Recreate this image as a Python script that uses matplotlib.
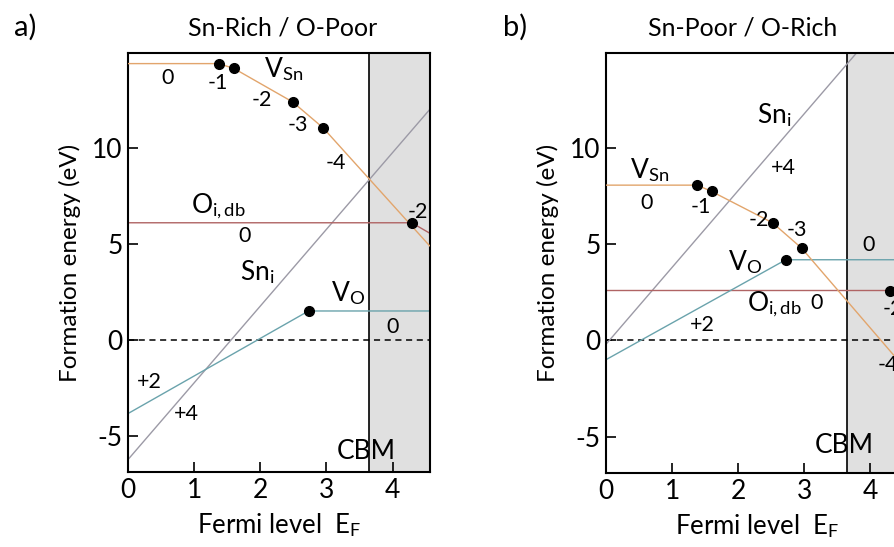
import matplotlib
matplotlib.use("Agg")
import matplotlib.pyplot as plt

plt.rcParams['font.family'] = ['Lato', 'DejaVu Sans']
plt.rcParams['mathtext.fontset'] = 'custom'
plt.rcParams['mathtext.rm'] = 'Lato'
plt.rcParams['mathtext.it'] = 'Lato:italic'
plt.rcParams['axes.unicode_minus'] = False

# ---------------- data ----------------
XMAX = 4.56
CBM = 3.64
YLIM = (-6.9, 14.95)
xticks = [0, 1, 2, 3, 4]
yticks = [-5, 0, 5, 10]

# Panel a: Sn-Rich / O-Poor
a_vsn_x = [0, 1.37, 1.60, 2.49, 2.95, 4.56]
a_vsn_y = [14.4, 14.4, 14.15, 12.4, 11.05, 4.9]
a_vsn_dots_x = [1.37, 1.60, 2.49, 2.95]
a_vsn_dots_y = [14.4, 14.15, 12.4, 11.05]
a_oi_x = [0, 4.29, 4.56]
a_oi_y = [6.1, 6.1, 5.56]
a_oi_dot = (4.29, 6.1)
a_sni_x = [0, 4.56]
a_sni_y = [-6.25, 12.0]
a_vo_x = [0, 2.73, 4.56]
a_vo_y = [-3.85, 1.5, 1.5]
a_vo_dot = (2.73, 1.5)

# Panel b: Sn-Poor / O-Rich
b_vsn_x = [0, 1.38, 1.60, 2.52, 2.96, 4.56]
b_vsn_y = [8.08, 8.08, 7.75, 6.12, 4.8, -1.6]
b_vsn_dots_x = [1.38, 1.60, 2.52, 2.96]
b_vsn_dots_y = [8.08, 7.75, 6.12, 4.8]
b_oi_x = [0, 4.29, 4.56]
b_oi_y = [2.6, 2.6, 2.06]
b_oi_dot = (4.29, 2.6)
b_sni_x = [0, 4.56]
b_sni_y = [-0.2, 18.04]
b_vo_x = [0, 2.72, 4.56]
b_vo_y = [-1.0, 4.2, 4.2]
b_vo_dot = (2.72, 4.2)

# labels: (text, x, y)
a_labels = [
    ("0", 0.6, 13.65), ("-1", 1.36, 13.4), (r"V$_{\mathrm{Sn}}$", 2.35, 14.1),
    ("-2", 2.02, 12.5), ("-3", 2.57, 11.2), ("-4", 3.15, 9.2),
    (r"O$_{\mathrm{i,db}}$", 1.36, 6.95), ("0", 1.77, 5.4), ("-2", 4.38, 6.65),
    (r"Sn$_{\mathrm{i}}$", 1.95, 3.55), (r"V$_{\mathrm{O}}$", 3.32, 2.45),
    ("0", 4.0, 0.68), ("+2", 0.33, -2.2), ("+4", 0.89, -3.85), ("CBM", 3.6, -5.85),
]
b_labels = [
    (r"V$_{\mathrm{Sn}}$", 0.66, 8.85), ("0", 0.62, 7.15), ("-1", 1.43, 6.95),
    (r"Sn$_{\mathrm{i}}$", 2.55, 11.7), ("+4", 2.69, 8.95), ("-2", 2.31, 6.27),
    ("-3", 2.88, 5.75), (r"V$_{\mathrm{O}}$", 2.1, 4.1), ("0", 3.97, 4.98),
    (r"O$_{\mathrm{i,db}}$", 2.55, 1.9), ("0", 3.18, 1.97), ("+2", 1.46, 0.83),
    ("-2", 4.33, 1.65), ("-4", 4.26, -1.25), ("CBM", 3.6, -5.45),
]

C_VSN = "#e2a56c"
C_OI = "#b06464"
C_SNI = "#9c9aa6"
C_VO = "#6aa3ac"
C_GRAY = "#e0e0e0"

fig = plt.figure(figsize=(8.95, 5.47), dpi=100)
ax_a = fig.add_axes([0.143, 0.137, 0.337, 0.766])
ax_b = fig.add_axes([0.677, 0.135, 0.337, 0.768])

FS = 17.5


def draw(ax, vsn_x, vsn_y, dx, dy, oi_x, oi_y, oi_dot, sni_x, sni_y,
         vo_x, vo_y, vo_dot, labels):
    ax.axvspan(CBM, XMAX, color=C_GRAY, zorder=0, lw=0)
    ax.axvline(CBM, color="black", lw=1.2, zorder=1)
    ax.axhline(0, color="black", lw=1.1, ls=(0, (4, 3)), zorder=1)
    lw = 1.0
    ax.plot(sni_x, sni_y, color=C_SNI, lw=lw, zorder=2)
    ax.plot(oi_x, oi_y, color=C_OI, lw=lw, zorder=2)
    ax.plot(vo_x, vo_y, color=C_VO, lw=lw, zorder=2)
    ax.plot(vsn_x, vsn_y, color=C_VSN, lw=lw, zorder=3)
    ax.plot(dx, dy, "o", color="black", ms=7, zorder=4)
    ax.plot([oi_dot[0]], [oi_dot[1]], "o", color="black", ms=7, zorder=4)
    ax.plot([vo_dot[0]], [vo_dot[1]], "o", color="black", ms=7, zorder=4)
    for t, x, y in labels:
        fs = 19 if ("$" in t or t == "CBM") else 15.5
        ax.text(x, y, t, fontsize=fs, ha="center", va="center", zorder=5)
    ax.set_xlim(0, XMAX)
    ax.set_ylim(*YLIM)
    ax.set_xticks(xticks)
    ax.set_yticks(yticks)
    ax.tick_params(direction="in", length=7, width=1.2, labelsize=19, pad=4)
    for s in ax.spines.values():
        s.set_linewidth(1.5)
    ax.set_xlabel(r"Fermi level  E$_{\mathrm{F}}$", fontsize=18.5, labelpad=6)
    ax.set_ylabel("Formation energy (eV)", fontsize=FS, labelpad=8)


draw(ax_a, a_vsn_x, a_vsn_y, a_vsn_dots_x, a_vsn_dots_y, a_oi_x, a_oi_y, a_oi_dot,
     a_sni_x, a_sni_y, a_vo_x, a_vo_y, a_vo_dot, a_labels)
draw(ax_b, b_vsn_x, b_vsn_y, b_vsn_dots_x, b_vsn_dots_y, b_oi_x, b_oi_y, b_oi_dot,
     b_sni_x, b_sni_y, b_vo_x, b_vo_y, b_vo_dot, b_labels)

fig.text(283 / 895, 1 - 28 / 547, "Sn-Rich / O-Poor", fontsize=18, ha="center", va="center")
fig.text(743 / 895, 1 - 28 / 547, "Sn-Poor / O-Rich", fontsize=18, ha="center", va="center")
fig.text(25 / 895, 1 - 27 / 547, "a)", fontsize=21, ha="center", va="center")
fig.text(515 / 895, 1 - 27 / 547, "b)", fontsize=21, ha="center", va="center")

fig.savefig("out.png", dpi=100)
